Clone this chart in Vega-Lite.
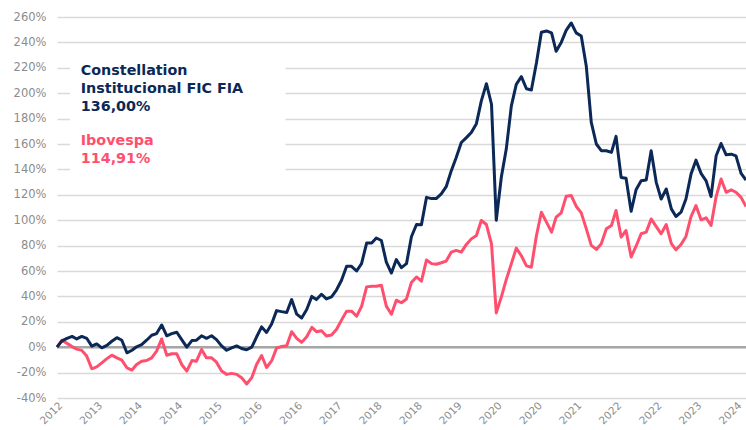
{
  "$schema": "https://vega.github.io/schema/vega-lite/v6.json",
  "width": 689,
  "height": 381,
  "autosize": {"type": "none"},
  "padding": {"left": 57, "top": 17, "right": 0, "bottom": 32},
  "background": "white",
  "config": {
    "view": {"stroke": null},
    "axis": {"labelFont": "DejaVu Sans", "labelColor": "#8c8c8c", "ticks": false, "domain": false, "labelOverlap": false, "labelBound": false, "labelFlush": false},
    "axisX": {"grid": false, "labelPadding": 2, "labelFontSize": 10.5, "labelAngle": -45},
    "axisY": {"grid": true, "gridColor": "#d9d9d9", "gridWidth": 1.5, "labelPadding": 11, "labelFontSize": 11.5}
  },
  "data": {"values": [
    {"date":"2012-11-01","fund":0,"ibov":0},
    {"date":"2012-12-01","fund":5,"ibov":5.5},
    {"date":"2013-01-01","fund":7,"ibov":3},
    {"date":"2013-02-01","fund":8.5,"ibov":0.5},
    {"date":"2013-03-01","fund":6.5,"ibov":-1.5},
    {"date":"2013-04-01","fund":8.5,"ibov":-2.5},
    {"date":"2013-05-01","fund":7,"ibov":-7},
    {"date":"2013-06-01","fund":0.8,"ibov":-17},
    {"date":"2013-07-01","fund":2.6,"ibov":-15.5},
    {"date":"2013-08-01","fund":-0.5,"ibov":-12.3},
    {"date":"2013-09-01","fund":1.5,"ibov":-9},
    {"date":"2013-10-01","fund":4.7,"ibov":-6.3},
    {"date":"2013-11-01","fund":7.5,"ibov":-8.4},
    {"date":"2013-12-01","fund":5.5,"ibov":-10.2},
    {"date":"2014-01-01","fund":-4.4,"ibov":-16.2},
    {"date":"2014-02-01","fund":-2.4,"ibov":-18},
    {"date":"2014-03-01","fund":0.3,"ibov":-13.6},
    {"date":"2014-04-01","fund":2,"ibov":-11},
    {"date":"2014-05-01","fund":5.5,"ibov":-10.5},
    {"date":"2014-06-01","fund":9.4,"ibov":-8.4},
    {"date":"2014-07-01","fund":10.7,"ibov":-3.1},
    {"date":"2014-08-01","fund":17.5,"ibov":6.5},
    {"date":"2014-09-01","fund":9,"ibov":-6.3},
    {"date":"2014-10-01","fund":10.7,"ibov":-5.2},
    {"date":"2014-11-01","fund":11.8,"ibov":-5.2},
    {"date":"2014-12-01","fund":6,"ibov":-13.6},
    {"date":"2015-01-01","fund":0,"ibov":-18.8},
    {"date":"2015-02-01","fund":5.2,"ibov":-10.5},
    {"date":"2015-03-01","fund":5.5,"ibov":-11},
    {"date":"2015-04-01","fund":9,"ibov":-1.8},
    {"date":"2015-05-01","fund":7,"ibov":-8.4},
    {"date":"2015-06-01","fund":9,"ibov":-8.4},
    {"date":"2015-07-01","fund":6,"ibov":-11.8},
    {"date":"2015-08-01","fund":1,"ibov":-18.8},
    {"date":"2015-09-01","fund":-2.4,"ibov":-21.4},
    {"date":"2015-10-01","fund":-0.5,"ibov":-20.6},
    {"date":"2015-11-01","fund":1,"ibov":-21.4},
    {"date":"2015-12-01","fund":-1,"ibov":-24},
    {"date":"2016-01-01","fund":-2,"ibov":-29},
    {"date":"2016-02-01","fund":0,"ibov":-24},
    {"date":"2016-03-01","fund":8,"ibov":-13.6},
    {"date":"2016-04-01","fund":16,"ibov":-6.5},
    {"date":"2016-05-01","fund":11.6,"ibov":-16},
    {"date":"2016-06-01","fund":18.3,"ibov":-10.8},
    {"date":"2016-07-01","fund":28.8,"ibov":-0.7},
    {"date":"2016-08-01","fund":28,"ibov":0.6},
    {"date":"2016-09-01","fund":27.3,"ibov":1.2},
    {"date":"2016-10-01","fund":37.5,"ibov":12.2},
    {"date":"2016-11-01","fund":26,"ibov":7},
    {"date":"2016-12-01","fund":23,"ibov":3.8},
    {"date":"2017-01-01","fund":29.7,"ibov":8.3},
    {"date":"2017-02-01","fund":40,"ibov":15.6},
    {"date":"2017-03-01","fund":37.5,"ibov":12.2},
    {"date":"2017-04-01","fund":41.7,"ibov":13},
    {"date":"2017-05-01","fund":38,"ibov":8.8},
    {"date":"2017-06-01","fund":39.6,"ibov":9.6},
    {"date":"2017-07-01","fund":45,"ibov":14},
    {"date":"2017-08-01","fund":52.7,"ibov":21.3},
    {"date":"2017-09-01","fund":63.7,"ibov":28.4},
    {"date":"2017-10-01","fund":63.7,"ibov":28.4},
    {"date":"2017-11-01","fund":60,"ibov":24.5},
    {"date":"2017-12-01","fund":65.8,"ibov":32},
    {"date":"2018-01-01","fund":82,"ibov":47.5},
    {"date":"2018-02-01","fund":82,"ibov":48},
    {"date":"2018-03-01","fund":86,"ibov":48},
    {"date":"2018-04-01","fund":84,"ibov":48.8},
    {"date":"2018-05-01","fund":67,"ibov":32.3},
    {"date":"2018-06-01","fund":58.4,"ibov":26},
    {"date":"2018-07-01","fund":69,"ibov":37},
    {"date":"2018-08-01","fund":62.6,"ibov":35},
    {"date":"2018-09-01","fund":65.8,"ibov":38},
    {"date":"2018-10-01","fund":87,"ibov":51},
    {"date":"2018-11-01","fund":96.6,"ibov":55.3},
    {"date":"2018-12-01","fund":96.5,"ibov":52},
    {"date":"2019-01-01","fund":118,"ibov":68.7},
    {"date":"2019-02-01","fund":117,"ibov":65.8},
    {"date":"2019-03-01","fund":117,"ibov":65.3},
    {"date":"2019-04-01","fund":120.7,"ibov":66.5},
    {"date":"2019-05-01","fund":126.4,"ibov":67.8},
    {"date":"2019-06-01","fund":139,"ibov":74.9},
    {"date":"2019-07-01","fund":149.4,"ibov":76.2},
    {"date":"2019-08-01","fund":161.2,"ibov":74.9},
    {"date":"2019-09-01","fund":165,"ibov":80.9},
    {"date":"2019-10-01","fund":169,"ibov":85.3},
    {"date":"2019-11-01","fund":176,"ibov":88},
    {"date":"2019-12-01","fund":194,"ibov":99.8},
    {"date":"2020-01-01","fund":207.5,"ibov":96.6},
    {"date":"2020-02-01","fund":191.3,"ibov":81.4},
    {"date":"2020-03-01","fund":100,"ibov":27},
    {"date":"2020-04-01","fund":134,"ibov":39.6},
    {"date":"2020-05-01","fund":156,"ibov":53.2},
    {"date":"2020-06-01","fund":190,"ibov":65.8},
    {"date":"2020-07-01","fund":207,"ibov":78},
    {"date":"2020-08-01","fund":213,"ibov":72},
    {"date":"2020-09-01","fund":203.5,"ibov":64},
    {"date":"2020-10-01","fund":202.5,"ibov":63},
    {"date":"2020-11-01","fund":224,"ibov":88},
    {"date":"2020-12-01","fund":248,"ibov":106.3},
    {"date":"2021-01-01","fund":249,"ibov":98.5},
    {"date":"2021-02-01","fund":247.5,"ibov":90.6},
    {"date":"2021-03-01","fund":233,"ibov":102.4},
    {"date":"2021-04-01","fund":240,"ibov":105.8},
    {"date":"2021-05-01","fund":249.5,"ibov":118.8},
    {"date":"2021-06-01","fund":255.3,"ibov":119.4},
    {"date":"2021-07-01","fund":247.5,"ibov":111},
    {"date":"2021-08-01","fund":245,"ibov":105.8},
    {"date":"2021-09-01","fund":221,"ibov":93.2},
    {"date":"2021-10-01","fund":177,"ibov":80.2},
    {"date":"2021-11-01","fund":160,"ibov":77},
    {"date":"2021-12-01","fund":154.7,"ibov":81.5},
    {"date":"2022-01-01","fund":154.7,"ibov":93.2},
    {"date":"2022-02-01","fund":153.4,"ibov":95.8},
    {"date":"2022-03-01","fund":166,"ibov":107.6},
    {"date":"2022-04-01","fund":133.7,"ibov":86.7},
    {"date":"2022-05-01","fund":133,"ibov":91.9},
    {"date":"2022-06-01","fund":107,"ibov":71},
    {"date":"2022-07-01","fund":124,"ibov":79.5},
    {"date":"2022-08-01","fund":131,"ibov":89.3},
    {"date":"2022-09-01","fund":131.6,"ibov":90.6},
    {"date":"2022-10-01","fund":154.7,"ibov":101},
    {"date":"2022-11-01","fund":129.8,"ibov":95},
    {"date":"2022-12-01","fund":116.7,"ibov":89.3},
    {"date":"2023-01-01","fund":124.6,"ibov":96.6},
    {"date":"2023-02-01","fund":108.9,"ibov":81.5},
    {"date":"2023-03-01","fund":102.9,"ibov":76.7},
    {"date":"2023-04-01","fund":106.3,"ibov":80.9},
    {"date":"2023-05-01","fund":116.7,"ibov":87.2},
    {"date":"2023-06-01","fund":136.3,"ibov":102.9},
    {"date":"2023-07-01","fund":147.3,"ibov":111.5},
    {"date":"2023-08-01","fund":136.9,"ibov":100.3},
    {"date":"2023-09-01","fund":131,"ibov":101.9},
    {"date":"2023-10-01","fund":118.6,"ibov":95.8},
    {"date":"2023-11-01","fund":150.7,"ibov":118.6},
    {"date":"2023-12-01","fund":160.4,"ibov":132.4},
    {"date":"2024-01-01","fund":151.5,"ibov":122},
    {"date":"2024-02-01","fund":152,"ibov":123.8},
    {"date":"2024-03-01","fund":150.7,"ibov":122},
    {"date":"2024-04-01","fund":136.9,"ibov":118},
    {"date":"2024-05-01","fund":131.6,"ibov":110.7}
  ]},
  "layer": [
    {
      "data": {"values": [{}]},
      "mark": {"type": "rect", "fill": "white"},
      "encoding": {
        "x": {"datum": {"year": 2013, "month": 1, "date": 19, "utc": true}, "type": "temporal", "scale": {"type": "utc", "domain": [{"year": 2012, "month": 11, "date": 1, "utc": true}, {"year": 2024, "month": 5, "date": 1, "utc": true}], "nice": false}, "axis": {"values": [
          {"year": 2012, "month": 11, "date": 1, "utc": true},
          {"year": 2013, "month": 7, "date": 1, "utc": true},
          {"year": 2014, "month": 3, "date": 1, "utc": true},
          {"year": 2014, "month": 11, "date": 1, "utc": true},
          {"year": 2015, "month": 7, "date": 1, "utc": true},
          {"year": 2016, "month": 3, "date": 1, "utc": true},
          {"year": 2016, "month": 11, "date": 1, "utc": true},
          {"year": 2017, "month": 7, "date": 1, "utc": true},
          {"year": 2018, "month": 3, "date": 1, "utc": true},
          {"year": 2018, "month": 11, "date": 1, "utc": true},
          {"year": 2019, "month": 7, "date": 1, "utc": true},
          {"year": 2020, "month": 3, "date": 1, "utc": true},
          {"year": 2020, "month": 11, "date": 1, "utc": true},
          {"year": 2021, "month": 7, "date": 1, "utc": true},
          {"year": 2022, "month": 3, "date": 1, "utc": true},
          {"year": 2022, "month": 11, "date": 1, "utc": true},
          {"year": 2023, "month": 7, "date": 1, "utc": true},
          {"year": 2024, "month": 3, "date": 1, "utc": true}
        ], "format": "%Y", "title": null}},
        "x2": {"datum": {"year": 2016, "month": 8, "date": 25, "utc": true}},
        "y": {"datum": 233, "type": "quantitative", "scale": {"domain": [-40, 260], "nice": false, "zero": false}, "axis": {"values": [-40, -20, 0, 20, 40, 60, 80, 100, 120, 140, 160, 180, 200, 220, 240, 260], "labelExpr": "datum.value + '%'", "title": null}},
        "y2": {"datum": 127}
      }
    },
    {
      "data": {"values": [{}]},
      "mark": {"type": "rule", "stroke": "#a6a6a6", "strokeWidth": 2.5},
      "encoding": {"y": {"datum": 0, "type": "quantitative", "axis": {"values": [-40, -20, 0, 20, 40, 60, 80, 100, 120, 140, 160, 180, 200, 220, 240, 260], "labelExpr": "datum.value + '%'", "title": null}}}
    },
    {
      "mark": {"type": "line", "stroke": "#FF4F6E", "strokeWidth": 3, "strokeJoin": "round"},
      "encoding": {
        "x": {"field": "date", "type": "temporal", "axis": {"values": [
          {"year": 2012, "month": 11, "date": 1, "utc": true},
          {"year": 2013, "month": 7, "date": 1, "utc": true},
          {"year": 2014, "month": 3, "date": 1, "utc": true},
          {"year": 2014, "month": 11, "date": 1, "utc": true},
          {"year": 2015, "month": 7, "date": 1, "utc": true},
          {"year": 2016, "month": 3, "date": 1, "utc": true},
          {"year": 2016, "month": 11, "date": 1, "utc": true},
          {"year": 2017, "month": 7, "date": 1, "utc": true},
          {"year": 2018, "month": 3, "date": 1, "utc": true},
          {"year": 2018, "month": 11, "date": 1, "utc": true},
          {"year": 2019, "month": 7, "date": 1, "utc": true},
          {"year": 2020, "month": 3, "date": 1, "utc": true},
          {"year": 2020, "month": 11, "date": 1, "utc": true},
          {"year": 2021, "month": 7, "date": 1, "utc": true},
          {"year": 2022, "month": 3, "date": 1, "utc": true},
          {"year": 2022, "month": 11, "date": 1, "utc": true},
          {"year": 2023, "month": 7, "date": 1, "utc": true},
          {"year": 2024, "month": 3, "date": 1, "utc": true}
        ], "format": "%Y", "title": null}},
        "y": {"field": "ibov", "type": "quantitative", "axis": {"values": [-40, -20, 0, 20, 40, 60, 80, 100, 120, 140, 160, 180, 200, 220, 240, 260], "labelExpr": "datum.value + '%'", "title": null}}
      }
    },
    {
      "mark": {"type": "line", "stroke": "#0B2856", "strokeWidth": 3, "strokeJoin": "round"},
      "encoding": {
        "x": {"field": "date", "type": "temporal", "axis": {"values": [
          {"year": 2012, "month": 11, "date": 1, "utc": true},
          {"year": 2013, "month": 7, "date": 1, "utc": true},
          {"year": 2014, "month": 3, "date": 1, "utc": true},
          {"year": 2014, "month": 11, "date": 1, "utc": true},
          {"year": 2015, "month": 7, "date": 1, "utc": true},
          {"year": 2016, "month": 3, "date": 1, "utc": true},
          {"year": 2016, "month": 11, "date": 1, "utc": true},
          {"year": 2017, "month": 7, "date": 1, "utc": true},
          {"year": 2018, "month": 3, "date": 1, "utc": true},
          {"year": 2018, "month": 11, "date": 1, "utc": true},
          {"year": 2019, "month": 7, "date": 1, "utc": true},
          {"year": 2020, "month": 3, "date": 1, "utc": true},
          {"year": 2020, "month": 11, "date": 1, "utc": true},
          {"year": 2021, "month": 7, "date": 1, "utc": true},
          {"year": 2022, "month": 3, "date": 1, "utc": true},
          {"year": 2022, "month": 11, "date": 1, "utc": true},
          {"year": 2023, "month": 7, "date": 1, "utc": true},
          {"year": 2024, "month": 3, "date": 1, "utc": true}
        ], "format": "%Y", "title": null}},
        "y": {"field": "fund", "type": "quantitative", "axis": {"values": [-40, -20, 0, 20, 40, 60, 80, 100, 120, 140, 160, 180, 200, 220, 240, 260], "labelExpr": "datum.value + '%'", "title": null}}
      }
    },
    {
      "data": {"values": [{"label": ["Constellation", "Institucional FIC FIA", "136,00%"]}]},
      "mark": {"type": "text", "align": "left", "baseline": "alphabetic", "font": "DejaVu Sans", "fontWeight": "bold", "fontSize": 14.3, "lineHeight": 18, "color": "#0B2856"},
      "encoding": {
        "x": {"datum": {"year": 2013, "month": 3, "date": 26, "utc": true}, "type": "temporal", "axis": {"values": [
          {"year": 2012, "month": 11, "date": 1, "utc": true},
          {"year": 2013, "month": 7, "date": 1, "utc": true},
          {"year": 2014, "month": 3, "date": 1, "utc": true},
          {"year": 2014, "month": 11, "date": 1, "utc": true},
          {"year": 2015, "month": 7, "date": 1, "utc": true},
          {"year": 2016, "month": 3, "date": 1, "utc": true},
          {"year": 2016, "month": 11, "date": 1, "utc": true},
          {"year": 2017, "month": 7, "date": 1, "utc": true},
          {"year": 2018, "month": 3, "date": 1, "utc": true},
          {"year": 2018, "month": 11, "date": 1, "utc": true},
          {"year": 2019, "month": 7, "date": 1, "utc": true},
          {"year": 2020, "month": 3, "date": 1, "utc": true},
          {"year": 2020, "month": 11, "date": 1, "utc": true},
          {"year": 2021, "month": 7, "date": 1, "utc": true},
          {"year": 2022, "month": 3, "date": 1, "utc": true},
          {"year": 2022, "month": 11, "date": 1, "utc": true},
          {"year": 2023, "month": 7, "date": 1, "utc": true},
          {"year": 2024, "month": 3, "date": 1, "utc": true}
        ], "format": "%Y", "title": null}},
        "y": {"datum": 214, "type": "quantitative", "axis": {"values": [-40, -20, 0, 20, 40, 60, 80, 100, 120, 140, 160, 180, 200, 220, 240, 260], "labelExpr": "datum.value + '%'", "title": null}},
        "text": {"field": "label"}
      }
    },
    {
      "data": {"values": [{"label": ["Ibovespa", "114,91%"]}]},
      "mark": {"type": "text", "align": "left", "baseline": "alphabetic", "font": "DejaVu Sans", "fontWeight": "bold", "fontSize": 14.3, "lineHeight": 18, "color": "#FF4F6E"},
      "encoding": {
        "x": {"datum": {"year": 2013, "month": 3, "date": 26, "utc": true}, "type": "temporal", "axis": {"values": [
          {"year": 2012, "month": 11, "date": 1, "utc": true},
          {"year": 2013, "month": 7, "date": 1, "utc": true},
          {"year": 2014, "month": 3, "date": 1, "utc": true},
          {"year": 2014, "month": 11, "date": 1, "utc": true},
          {"year": 2015, "month": 7, "date": 1, "utc": true},
          {"year": 2016, "month": 3, "date": 1, "utc": true},
          {"year": 2016, "month": 11, "date": 1, "utc": true},
          {"year": 2017, "month": 7, "date": 1, "utc": true},
          {"year": 2018, "month": 3, "date": 1, "utc": true},
          {"year": 2018, "month": 11, "date": 1, "utc": true},
          {"year": 2019, "month": 7, "date": 1, "utc": true},
          {"year": 2020, "month": 3, "date": 1, "utc": true},
          {"year": 2020, "month": 11, "date": 1, "utc": true},
          {"year": 2021, "month": 7, "date": 1, "utc": true},
          {"year": 2022, "month": 3, "date": 1, "utc": true},
          {"year": 2022, "month": 11, "date": 1, "utc": true},
          {"year": 2023, "month": 7, "date": 1, "utc": true},
          {"year": 2024, "month": 3, "date": 1, "utc": true}
        ], "format": "%Y", "title": null}},
        "y": {"datum": 159, "type": "quantitative", "axis": {"values": [-40, -20, 0, 20, 40, 60, 80, 100, 120, 140, 160, 180, 200, 220, 240, 260], "labelExpr": "datum.value + '%'", "title": null}},
        "text": {"field": "label"}
      }
    }
  ]
}
